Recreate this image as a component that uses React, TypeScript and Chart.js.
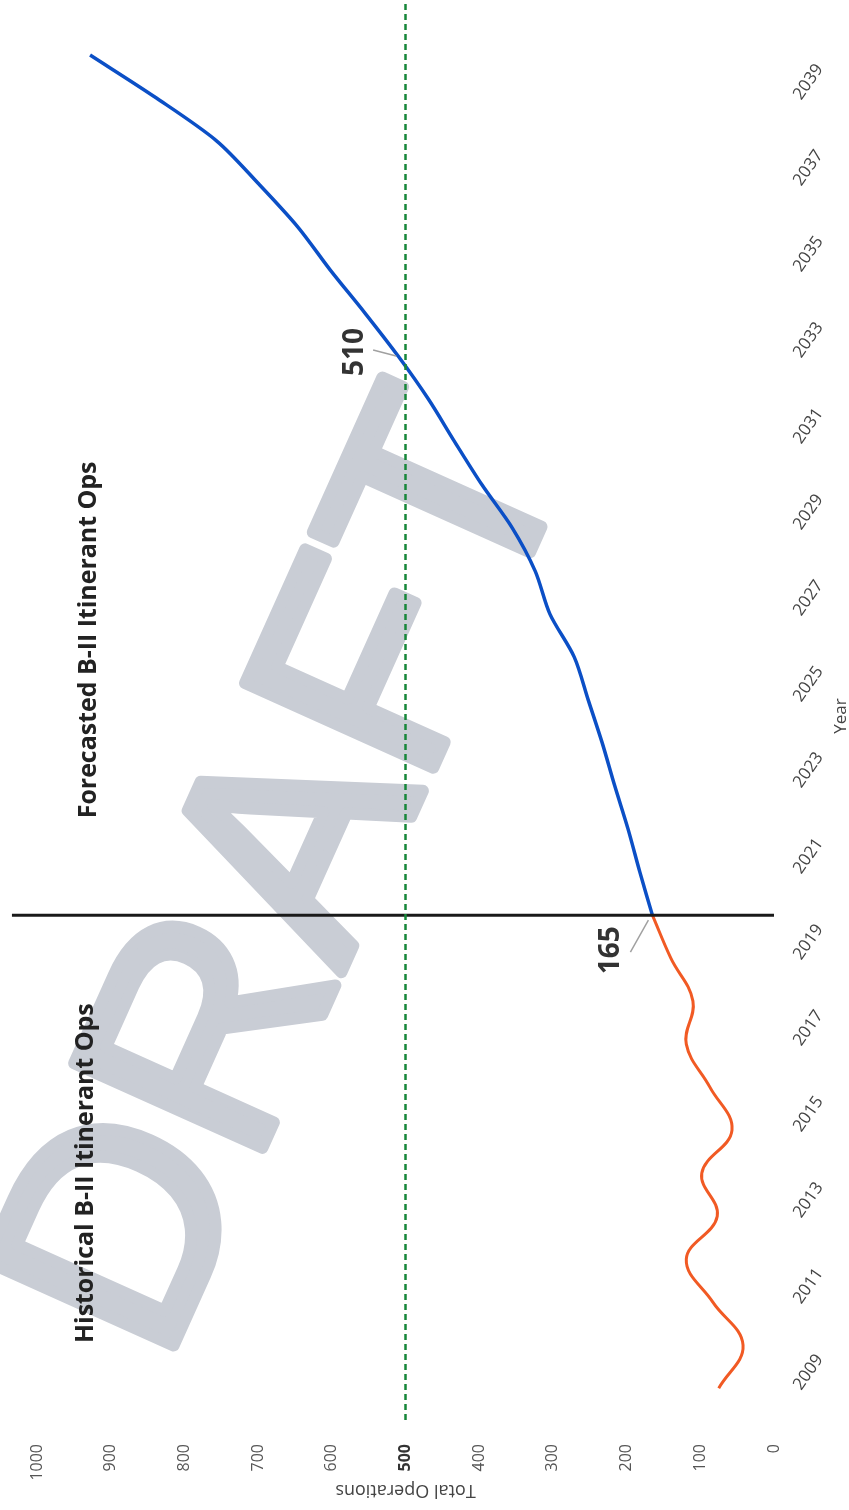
import React, { useEffect, useRef } from 'react';
import { Chart, registerables } from 'chart.js';

Chart.register(...registerables);

// ---------- data ----------
const histYears = [2008, 2009, 2010, 2011, 2012, 2013, 2014, 2015, 2016, 2017, 2018, 2019];
const histOps = [75, 42, 83, 119, 77, 98, 57, 87, 119, 110, 140, 165];

const fcstYears = [2019, 2020, 2021, 2022, 2023, 2024, 2025, 2026, 2027, 2028, 2029, 2030, 2031, 2032, 2033, 2034, 2035, 2036, 2037, 2038, 2039];
const fcstOps = [165, 182, 198, 216, 233, 252, 271, 304, 324, 355, 396, 433, 469, 510, 555, 602, 646, 699, 756, 838, 928];

const yearTicks = [2009, 2011, 2013, 2015, 2017, 2019, 2021, 2023, 2025, 2027, 2029, 2031, 2033, 2035, 2037, 2039];
const opsTicks = [0, 100, 200, 300, 400, 500, 600, 700, 800, 900, 1000];

const yearRange = [2007.26, 2040.28];
const opsRange = [0, 1000];
const thresholdOps = 500;
const splitYear = 2019;
const splitLineOps = [0, 1034];

const calloutYears = [2019, 2032];
const calloutOps = [165, 510];
const calloutTexts = ['165', '510'];

const sectionTexts = ['Historical B-II Itinerant Ops', 'Forecasted B-II Itinerant Ops'];
const sectionYears = [2013.0, 2025.4];
const sectionOps = [933, 929];

const xTitle = 'Year';
const yTitle = 'Total Operations';
const watermark = 'DRAFT';

// ---------- styling ----------
const FONT = "'Open Sans', 'DejaVu Sans', sans-serif";
const BOLD_FONT = "'Open Sans', 'DejaVu Sans', sans-serif";
const WM_COLOR = 'rgb(201,205,213)';

const decor = {
  id: 'decor',
  beforeDatasetsDraw(chart: any) {
    const { ctx } = chart;
    ctx.save();
    ctx.translate(293, 878);
    ctx.rotate((-65.8 * Math.PI) / 180);
    ctx.font = `100px 'Liberation Sans', sans-serif`;
    const w = ctx.measureText(watermark).width;
    const size = (100 * 1000) / w;
    ctx.font = `${size}px 'Liberation Sans', sans-serif`;
    ctx.fillStyle = WM_COLOR;
    ctx.strokeStyle = WM_COLOR;
    ctx.lineWidth = 12;
    ctx.lineJoin = 'round';
    ctx.textAlign = 'center';
    ctx.textBaseline = 'middle';
    ctx.fillText(watermark, 0, 0);
    ctx.strokeText(watermark, 0, 0);
    ctx.restore();
  },
  afterDatasetsDraw(chart: any) {
    const { ctx } = chart;
    const xs = chart.scales.x;
    const ys = chart.scales.y;

    // section labels
    ctx.save();
    ctx.font = `bold 100px ${BOLD_FONT}`;
    const fw = ctx.measureText(sectionTexts[1]).width;
    const fsize = (100 * 357) / fw;
    for (let i = 0; i < sectionTexts.length; i++) {
      const px = xs.getPixelForValue(sectionOps[i]);
      const py = ys.getPixelForValue(sectionYears[i]);
      ctx.save();
      ctx.translate(px, py);
      ctx.rotate(-Math.PI / 2);
      ctx.font = `bold ${fsize}px ${BOLD_FONT}`;
      ctx.fillStyle = '#222';
      ctx.textAlign = 'center';
      ctx.textBaseline = 'middle';
      ctx.fillText(sectionTexts[i], 0, 0);
      ctx.restore();
    }
    ctx.restore();

    // callouts
    const textOff = [[-41, 35], [-43, -4]];
    const leadOff = [[[-22, 37], [-4, 5]], [[-25, -6], [-2, 0]]];
    for (let i = 0; i < calloutTexts.length; i++) {
      const px = xs.getPixelForValue(calloutOps[i]);
      const py = ys.getPixelForValue(calloutYears[i]);
      ctx.save();
      ctx.strokeStyle = '#a0a0a0';
      ctx.lineWidth = 1.5;
      ctx.beginPath();
      ctx.moveTo(px + leadOff[i][0][0], py + leadOff[i][0][1]);
      ctx.lineTo(px + leadOff[i][1][0], py + leadOff[i][1][1]);
      ctx.stroke();
      ctx.translate(px + textOff[i][0], py + textOff[i][1]);
      ctx.rotate(-Math.PI / 2);
      ctx.font = `bold 28px ${BOLD_FONT}`;
      ctx.fillStyle = '#333';
      ctx.textAlign = 'center';
      ctx.textBaseline = 'middle';
      ctx.fillText(calloutTexts[i], 0, 0);
      ctx.restore();
    }
  },
  afterDraw(chart: any) {
    const { ctx, chartArea, width } = chart;
    ctx.save();
    ctx.fillStyle = '#444';
    ctx.font = `17px ${FONT}`;
    ctx.textAlign = 'center';
    ctx.textBaseline = 'middle';
    ctx.translate(width - 8, (chartArea.top + chartArea.bottom) / 2 + 6);
    ctx.rotate(-Math.PI / 2);
    ctx.fillText(xTitle, 0, 0);
    ctx.restore();

    ctx.save();
    ctx.fillStyle = '#444';
    ctx.font = `18px ${FONT}`;
    ctx.textAlign = 'center';
    ctx.textBaseline = 'middle';
    ctx.translate((chartArea.left + chartArea.right) / 2, chartArea.bottom + 70);
    ctx.rotate(Math.PI);
    ctx.fillText(yTitle, 0, 0);
    ctx.restore();
  },
};

export default function App() {
  const ref = useRef<HTMLCanvasElement>(null);

  useEffect(() => {
    const canvas = ref.current!;
    const chart = new Chart(canvas, {
      type: 'line',
      data: {
        datasets: [
          {
            label: 'Threshold',
            data: yearRange.map((yv) => ({ x: thresholdOps, y: yv })),
            borderColor: '#17873a',
            borderWidth: 2.5,
            borderDash: [6, 4],
            pointRadius: 0,
            tension: 0,
          },
          {
            label: 'Split',
            data: splitLineOps.map((v) => ({ x: v, y: splitYear })),
            borderColor: '#1a1a1a',
            borderWidth: 3,
            pointRadius: 0,
            tension: 0,
            clip: false,
          },
          {
            label: 'Historical',
            data: histYears.map((yr, i) => ({ x: histOps[i], y: yr })),
            borderColor: '#f15a24',
            borderWidth: 3,
            pointRadius: 0,
            tension: 0.4,
          },
          {
            label: 'Forecast',
            data: fcstYears.map((yr, i) => ({ x: fcstOps[i], y: yr })),
            borderColor: '#0b4fc6',
            borderWidth: 3.5,
            pointRadius: 0,
            tension: 0.3,
          },
        ],
      } as any,
      options: {
        indexAxis: 'y',
        responsive: false,
        animation: false,
        devicePixelRatio: 1,
        layout: { padding: { left: 37, top: 0, right: 0, bottom: 0 } },
        plugins: { legend: { display: false }, tooltip: { enabled: false } },
        scales: {
          x: {
            type: 'linear',
            position: 'bottom',
            reverse: true,
            min: opsRange[0],
            max: opsRange[1],
            grid: { display: false },
            border: { display: false },
            afterBuildTicks: (s: any) => {
              s.ticks = opsTicks.map((v) => ({ value: v }));
            },
            ticks: {
              minRotation: 90,
              maxRotation: 90,
              padding: 16,
              callback: (v: any) => String(v),
              color: (c: any) => (c.tick && c.tick.value === thresholdOps ? '#333' : '#555'),
              font: (c: any) => ({
                family: FONT,
                size: 16,
                weight: c.tick && c.tick.value === thresholdOps ? 'bold' : 'normal',
              }),
            },
            afterFit: (s: any) => {
              s.height = 90;
              s.paddingLeft = 0;
              s.paddingRight = 0;
            },
          },
          y: {
            type: 'linear',
            position: 'right',
            min: yearRange[0],
            max: yearRange[1],
            grid: { display: false },
            border: { display: false },
            afterBuildTicks: (s: any) => {
              s.ticks = yearTicks.map((v) => ({ value: v }));
            },
            ticks: {
              minRotation: 55,
              maxRotation: 55,
              crossAlign: 'center',
              padding: 7,
              labelOffset: 27,
              callback: (v: any) => String(v),
              color: '#444',
              font: { family: FONT, size: 17 },
            },
            afterFit: (s: any) => {
              s.width = 75;
              s.paddingTop = 0;
              s.paddingBottom = 0;
            },
          },
        },
      } as any,
      plugins: [decor],
    });
    return () => chart.destroy();
  }, []);

  return (
    <div style={{ position: 'absolute', left: 0, top: 0, width: 849, height: 1510, background: '#fff' }}>
      <canvas ref={ref} width={849} height={1510} style={{ display: 'block', width: 849, height: 1510 }} />
    </div>
  );
}
